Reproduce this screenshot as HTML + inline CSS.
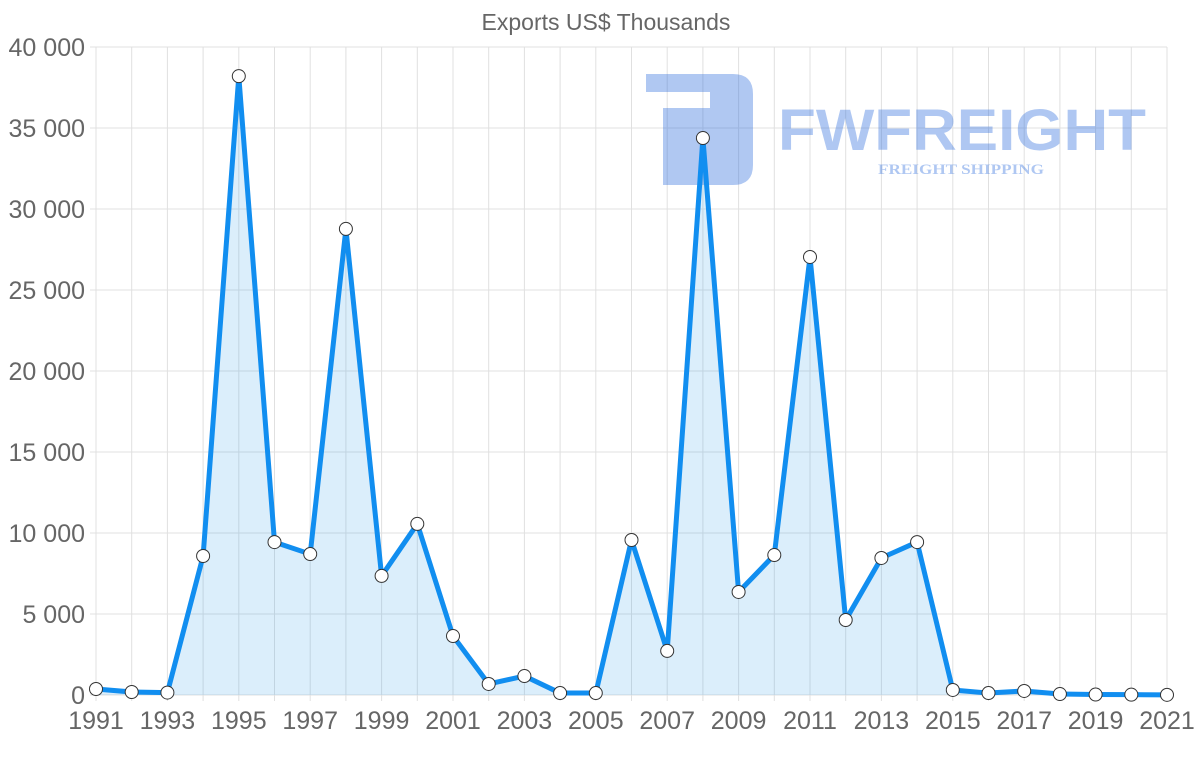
<!DOCTYPE html>
<html><head><meta charset="utf-8"><style>
html,body{margin:0;padding:0;background:#fff;}
svg{display:block;font-family:"Liberation Sans",sans-serif;}
</style></head><body>
<svg width="1200" height="763" viewBox="0 0 1200 763">
<text x="606" y="30" text-anchor="middle" font-size="23" fill="#666">Exports US$ Thousands</text>
<g id="grid" stroke="#e0e0e0" stroke-width="1"></g>
<g id="ylab" font-size="25" fill="#666" text-anchor="end"></g>
<g id="xlab" font-size="25" fill="#666" text-anchor="middle"></g>
<!-- watermark -->
<g opacity="0.38" fill="#2f6fde">
<path d="M646 74 H733 Q753 74 753 94 V165 Q753 185 733 185 H663 V108 H710 V92 H646 Z"/>
<text x="962" y="150" text-anchor="middle" font-size="58" font-weight="bold" textLength="368" lengthAdjust="spacingAndGlyphs">FWFREIGHT</text>
<text x="961" y="174" text-anchor="middle" font-size="15" font-weight="bold" font-family="Liberation Serif,serif" textLength="166" lengthAdjust="spacingAndGlyphs">FREIGHT SHIPPING</text>
</g>
<path id="area" fill="rgba(54,162,235,0.18)"/>
<path id="line" fill="none" stroke="#118ef0" stroke-width="5" stroke-linejoin="round"/>
<g id="pts" fill="#fff" stroke="#333" stroke-width="1"></g>
</svg>
<script>
var d=[370,185,150,8580,38200,9440,8700,28770,7350,10560,3640,680,1170,120,120,9570,2720,34380,6360,8640,27040,4630,8460,9440,310,120,250,60,30,20,10];
var L=96,R=1167,T=47,B=695,ns="http://www.w3.org/2000/svg";
function X(i){return L+(R-L)*i/30}function Y(v){return B-(B-T)*v/40000}
function el(p,t,a,tx){var e=document.createElementNS(ns,t);for(var k in a)e.setAttribute(k,a[k]);if(tx)e.textContent=tx;document.getElementById(p).appendChild(e);}
for(var i=0;i<=30;i++){el("grid","line",{x1:X(i),x2:X(i),y1:T,y2:B+6});if(i%2==0)el("xlab","text",{x:X(i),y:729},String(1991+i));}
for(var v=0;v<=40000;v+=5000){el("grid","line",{x1:L-6,x2:R,y1:Y(v),y2:Y(v)});el("ylab","text",{x:85,y:Y(v)+9},v==0?"0":(v/1000)+" 000");}
var p="";d.forEach(function(v,i){p+=(i?"L":"M")+X(i)+" "+Y(v)});
document.getElementById("line").setAttribute("d",p);
document.getElementById("area").setAttribute("d",p+"L"+R+" "+B+"L"+L+" "+B+"Z");
d.forEach(function(v,i){el("pts","circle",{cx:X(i),cy:Y(v),r:6.5})});
</script>
</body></html>
